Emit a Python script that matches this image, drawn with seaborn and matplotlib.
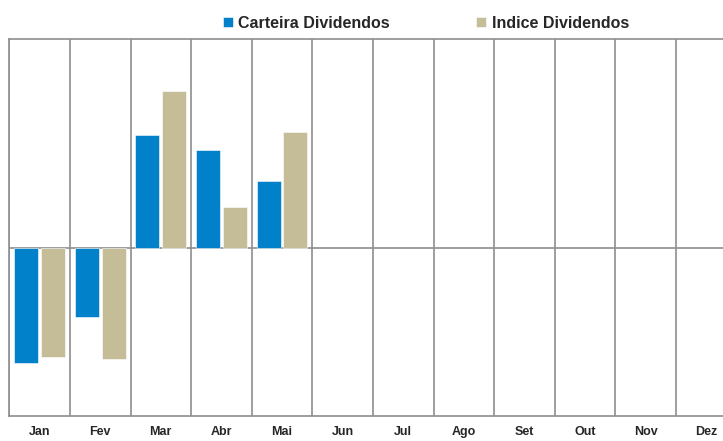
import numpy as np
import pandas as pd
import matplotlib
matplotlib.use("Agg")
import matplotlib.pyplot as plt
import seaborn as sns

meses = ['Jan', 'Fev', 'Mar', 'Abr', 'Mai', 'Jun', 'Jul', 'Ago', 'Set', 'Out', 'Nov', 'Dez']
carteira = [-5.46, -3.25, 5.42, 4.70, 3.20, np.nan, np.nan, np.nan, np.nan, np.nan, np.nan, np.nan]
indice = [-5.16, -5.27, 7.52, 1.96, 5.56, np.nan, np.nan, np.nan, np.nan, np.nan, np.nan, np.nan]
series = ['Carteira Dividendos', 'Indice Dividendos']
cores = ['#0081C9', '#C4BD97']

df = pd.DataFrame({'Mes': meses, series[0]: carteira, series[1]: indice})
df_long = df.melt(id_vars='Mes', var_name='Serie', value_name='Valor')

sns.set_style('white')
plt.rcParams['font.family'] = ['Liberation Sans', 'DejaVu Sans']

fig = plt.figure(figsize=(7.23, 4.41), dpi=100)
ax = fig.add_axes([9.3 / 723, 25 / 441, 727.2 / 723, 377 / 441])

sns.barplot(data=df_long, x='Mes', y='Valor', hue='Serie', order=meses,
            hue_order=series, palette=cores, saturation=1, width=0.88, gap=0.1,
            errorbar=None, edgecolor='white', linewidth=0.4, ax=ax)

grid_cor = '#8e8e8e'
ax.set_xlim(-0.5, len(meses) - 0.5)
ax.set_ylim(-8, 10)
ax.set_yticks([])
ax.set_xticks(np.arange(-0.5, len(meses), 1), minor=True)
ax.grid(which='minor', axis='x', color=grid_cor, linewidth=1.2)
ax.axhline(0, color=grid_cor, linewidth=1.2, zorder=0.5)
ax.set_axisbelow(True)
for lado in ['left', 'top', 'bottom']:
    ax.spines[lado].set_color(grid_cor)
    ax.spines[lado].set_linewidth(1.2)
ax.spines['right'].set_visible(False)
ax.tick_params(axis='x', which='both', length=0, pad=7, labelsize=9)
for lbl in ax.get_xticklabels():
    lbl.set_fontweight('bold')
ax.set_xlabel('')
ax.set_ylabel('')

handles, labels = ax.get_legend_handles_labels()
ax.get_legend().remove()
fig.legend(handles, labels, loc='center left', bbox_to_anchor=(215 / 723, 1 - 23 / 441),
           ncol=2, frameon=False, borderpad=0, handlelength=0.62, handleheight=0.62,
           handletextpad=0.35, columnspacing=5.4,
           prop={'weight': 'bold', 'size': 11.5})

fig.savefig('out.png', dpi=100)
